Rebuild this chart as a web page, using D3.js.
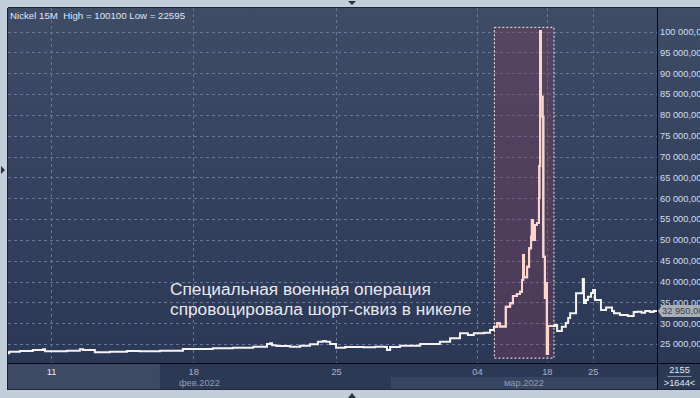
<!DOCTYPE html>
<html><head><meta charset="utf-8">
<script src="https://cdn.jsdelivr.net/npm/d3@7"></script>
<style>
html,body{margin:0;padding:0;background:#c3cedb;overflow:hidden;}
svg{display:block;}
text{font-family:"Liberation Sans",Arial,sans-serif;}
</style></head><body>
<svg id="chart" width="700" height="398"></svg>
<script>
// ---------- data ----------
const titleText = "Nickel 15M  High = 100100 Low = 22595";
// 15-minute bar index (visible window) and price
const bars = [0,3,30,63,89,94,149,182,190,220,258,301,334,385,443,519,570,621,656,664,669,680,714,740,765,785,798,805,816,831,854,900,930,955,960,968,993,1044,1094,1120,1145,1165,1180,1206,1221,1231,1239,1246,1261,1272,1279,1289,1297,1302,1305,1307,1315,1320,1325,1327,1330,1335,1340,1345,1346,1348,1350,1354,1356,1360,1363,1365,1368,1386,1391,1403,1413,1419,1424,1439,1456,1459,1464,1469,1477,1482,1487,1502,1515,1530,1535,1550,1570,1585,1593,1605,1614,1626,1635,1644];
const prices = [22800,23150,23320,23560,23730,23250,23390,23730,23560,23010,23150,23320,23250,23390,23800,23970,24110,24350,25000,25170,24700,24520,24350,24590,24930,25550,25720,25550,25000,24110,24280,24200,24350,24280,23560,24280,24590,25000,25550,26360,27560,27160,27560,27710,28360,29150,29970,29230,33950,34770,36520,37000,37550,40360,46360,41010,43550,47970,50750,54760,49960,53560,54040,60040,67700,100100,84350,79550,45950,36040,39640,22595,29320,29560,28120,29150,30040,31240,32370,37170,40600,34840,35560,36350,37240,37960,35560,33160,33760,32920,32370,31960,31720,32680,32750,32500,32900,32700,32950,32950];
const priceTicks = [25000,30000,35000,40000,45000,50000,55000,60000,65000,70000,75000,80000,85000,90000,95000,100000];
const dateTickBars = [109,469,831,1188,1365,1481];
const dateTickLabels = ["11","18","25","04","18","25"];
const monthLabels = ["фев.2022","мар.2022"];
const monthBandBars = [[0,970],[970,1644]];
const scrollBandBars = [0,385];
const highlightBars = [1232,1383];
const highlightPrices = [21600,101000];
const annotationLines = ["Специальная военная операция","спровоцировала шорт-сквиз в никеле"];
const lastPrice = 32950;
const totalBars = 2155, visibleBars = 1644;
const priceDomain = [20440,105640];

// ---------- layout ----------
const W = 700, H = 398;
const P = {l:8, t:8, r:657, b:363, bb:390};
const svg = d3.select("#chart");
const x = d3.scaleLinear().domain([0, visibleBars]).range([P.l, P.r]);
const y = d3.scaleLinear().domain(priceDomain).range([P.b, P.t]);
const loc = d3.formatLocale({decimal:",", thousands:" ", grouping:[3], currency:["",""]});
const fmt = loc.format(",.2f");

const defs = svg.append("defs");
const g1 = defs.append("linearGradient").attr("id","bg").attr("x1",0).attr("y1",0).attr("x2",0).attr("y2",1);
g1.append("stop").attr("offset","0%").attr("stop-color","#3e4c66");
g1.append("stop").attr("offset","100%").attr("stop-color","#2b3856");
defs.append("clipPath").attr("id","plotClip").append("rect")
  .attr("x",P.l).attr("y",P.t).attr("width",P.r-P.l).attr("height",P.b-P.t);
defs.append("clipPath").attr("id","hlClip").append("rect")
  .attr("x",x(highlightBars[0])).attr("y",y(highlightPrices[1]))
  .attr("width",x(highlightBars[1])-x(highlightBars[0]))
  .attr("height",y(highlightPrices[0])-y(highlightPrices[1]));

// outer frame
svg.append("rect").attr("width",W).attr("height",H).attr("fill","#c3cedb");
// main background (plot + right axis)
svg.append("rect").attr("x",P.l).attr("y",P.t).attr("width",W-P.l).attr("height",P.b-P.t).attr("fill","url(#bg)");
// bottom panel
svg.append("rect").attr("x",P.l).attr("y",P.b).attr("width",W-P.l).attr("height",P.bb-P.b).attr("fill","#2c3955");
svg.append("rect").attr("x",x(scrollBandBars[0])).attr("y",P.b+1).attr("width",x(scrollBandBars[1])-x(scrollBandBars[0])).attr("height",P.bb-P.b-2).attr("fill","#3c4a64");
svg.append("rect").attr("x",x(monthBandBars[1][0])).attr("y",377).attr("width",x(monthBandBars[1][1])-x(monthBandBars[1][0])).attr("height",P.bb-377-1).attr("fill","#384661");
svg.append("line").attr("x1",P.l).attr("x2",W).attr("y1",P.bb-0.5).attr("y2",P.bb-0.5).attr("stroke","#1e2638");

// grid
const grid = svg.append("g").attr("stroke","#66769a").attr("stroke-width",1).attr("stroke-dasharray","3,3");
grid.selectAll("line.h").data(priceTicks).join("line").attr("class","h")
  .attr("x1",P.l).attr("x2",P.r).attr("y1",d=>Math.round(y(d))+0.5).attr("y2",d=>Math.round(y(d))+0.5);
grid.selectAll("line.v").data(dateTickBars).join("line").attr("class","v")
  .attr("y1",P.t).attr("y2",P.b).attr("x1",d=>Math.round(x(d))+0.5).attr("x2",d=>Math.round(x(d))+0.5);

// highlight rectangle
svg.append("rect")
  .attr("x",x(highlightBars[0])).attr("y",y(highlightPrices[1]))
  .attr("width",x(highlightBars[1])-x(highlightBars[0]))
  .attr("height",y(highlightPrices[0])-y(highlightPrices[1]))
  .attr("fill","rgba(140,60,90,0.32)")
  .attr("stroke","#f4f0f0").attr("stroke-width",1).attr("stroke-dasharray","2,2");

// price line
const series = bars.map((b,i)=>[b,prices[i]]);
const line = d3.line().x(d=>x(d[0])).y(d=>y(d[1])).curve(d3.curveStepAfter);
svg.append("path").datum(series).attr("clip-path","url(#plotClip)")
  .attr("d",line).attr("fill","none").attr("stroke","#f6f4f2").attr("stroke-width",2);
svg.append("path").datum(series).attr("clip-path","url(#hlClip)")
  .attr("d",line).attr("fill","none").attr("stroke","#ffd4cb").attr("stroke-width",2);

// annotation
const ann = svg.append("text").attr("x",170).attr("y",295).attr("fill","#e8e8ee")
  .style("font-size","17.3px");
ann.selectAll("tspan").data(annotationLines).join("tspan")
  .attr("x",170).attr("dy",(d,i)=>i?20:0).text(d=>d);

// title
svg.append("text").attr("x",10).attr("y",18.5).attr("fill","#dfe8f6")
  .style("font-size","9.7px").attr("xml:space","preserve").text(titleText);

// borders
svg.append("line").attr("x1",P.l-0.5).attr("x2",P.l-0.5).attr("y1",P.t).attr("y2",P.bb).attr("stroke","#1c2434");
svg.append("line").attr("x1",P.l).attr("x2",W).attr("y1",P.t-0.5).attr("y2",P.t-0.5).attr("stroke","#1c2434");
svg.append("line").attr("x1",P.r+0.5).attr("x2",P.r+0.5).attr("y1",P.t).attr("y2",P.bb).attr("stroke","#05080e");
svg.append("line").attr("x1",P.l).attr("x2",W).attr("y1",P.b+0.5).attr("y2",P.b+0.5).attr("stroke","#05080e");

// right axis
const ya = svg.append("g").attr("transform",`translate(${P.r},0)`)
  .call(d3.axisRight(y).tickValues(priceTicks).tickFormat(fmt).tickSize(0).tickPadding(3));
ya.select(".domain").remove();
ya.selectAll("text").attr("fill","#d2def0").style("font-size","9.3px").style("font-family","'Liberation Sans',Arial,sans-serif");

// last price marker
const ly = y(lastPrice);
svg.append("path").attr("d",`M${P.r+1},${ly} L${P.r+5},${ly-6} L${W},${ly-6} L${W},${ly+6} L${P.r+5},${ly+6} Z`).attr("fill","#a9aeb4");
svg.append("text").attr("x",P.r+5).attr("y",ly+3.3).attr("fill","#3a4250").style("font-size","9.3px").text(fmt(lastPrice));

// bottom axis
const xa = svg.append("g").attr("transform",`translate(0,${P.b})`)
  .call(d3.axisBottom(x).tickValues(dateTickBars).tickFormat((d,i)=>dateTickLabels[i]).tickSize(0).tickPadding(5));
xa.select(".domain").remove();
xa.selectAll("text").attr("fill",(d,i)=>i===0?"#e6ecf6":"#a6b4cc").style("font-size","9.3px").style("font-family","'Liberation Sans',Arial,sans-serif");
svg.selectAll("text.month").data(monthLabels).join("text").attr("class","month")
  .attr("x",(d,i)=>x((monthBandBars[i][0]+monthBandBars[i][1])/2)).attr("y",386)
  .attr("text-anchor","middle").attr("fill","#8e9cb4").style("font-size","9.3px").text(d=>d);

// bar counters
const cx = (P.r+W)/2+1;
svg.append("text").attr("x",cx).attr("y",373).attr("text-anchor","middle").attr("fill","#e0e8f2").style("font-size","9.3px").text(totalBars);
svg.append("line").attr("x1",cx-12).attr("x2",cx+12).attr("y1",376.5).attr("y2",376.5).attr("stroke","#8392aa");
svg.append("text").attr("x",cx).attr("y",386).attr("text-anchor","middle").attr("fill","#e0e8f2").style("font-size","9.3px").text(`>${visibleBars}<`);

// chrome triangles
svg.append("path").attr("d","M348,1 L356,1 L352,5 Z").attr("fill","#2a3342");
svg.append("path").attr("d","M348,398 L356,398 L352,393 Z").attr("fill","#2a3342");
svg.append("path").attr("d","M1,166 L5,170 L1,174 Z").attr("fill","#2a3342");
</script>
</body></html>
